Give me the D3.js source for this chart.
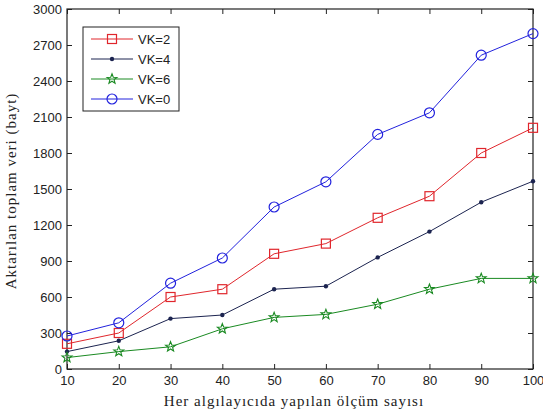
<!DOCTYPE html>
<html>
<head>
<meta charset="utf-8">
<script src="https://cdn.jsdelivr.net/npm/d3@7"></script>
<style>
body { margin: 0; background: #fff; }
.tick text { font-family: Arial, "Liberation Sans", sans-serif; font-size: 13px; fill: #222; }
</style>
</head>
<body>
<script>
var width = 543;
var height = 418;

var padding = {top: 9, right: 10, bottom: 49, left: 67};
var plotW = width - padding.left - padding.right;
var plotH = height - padding.top - padding.bottom;

// data
var xValues = [10, 20, 30, 40, 50, 60, 70, 80, 90, 100];
var vk2 = [210, 300, 600, 665, 960, 1045, 1260, 1440, 1800, 2010];
var vk4 = [145, 235, 420, 450, 665, 690, 930, 1145, 1390, 1565];
var vk6 = [95, 145, 185, 335, 430, 455, 540, 665, 755, 755];
var vk0 = [275, 385, 715, 925, 1350, 1560, 1955, 2135, 2615, 2795];
var seriesNames = ["VK=2", "VK=4", "VK=6", "VK=0"];
var yTicks = [0, 300, 600, 900, 1200, 1500, 1800, 2100, 2400, 2700, 3000];

var series = [
  {name: seriesNames[0], values: vk2, color: "#e0262c", marker: "square"},
  {name: seriesNames[1], values: vk4, color: "#1c2450", marker: "dot"},
  {name: seriesNames[2], values: vk6, color: "#1a8a22", marker: "star"},
  {name: seriesNames[3], values: vk0, color: "#2222dd", marker: "circle"}
];

var xScale = d3.scaleLinear().domain([10, 100]).range([0, plotW]);
var yScale = d3.scaleLinear().domain([0, 3000]).range([plotH, 0]);

var svg = d3.select("body")
  .append("svg")
  .attr("width", width)
  .attr("height", height);

var g = svg.append("g")
  .attr("transform", "translate(" + padding.left + "," + padding.top + ")");

// axes, ticks point inward like matlab
g.append("g")
  .attr("transform", "translate(0," + plotH + ")")
  .call(d3.axisBottom(xScale).tickValues(xValues).tickSize(-5).tickPadding(7).tickFormat(d3.format("d")));
g.append("g")
  .call(d3.axisTop(xScale).tickValues(xValues).tickSize(-5).tickFormat(""));
g.append("g")
  .call(d3.axisLeft(yScale).tickValues(yTicks).tickSize(-5).tickPadding(5).tickFormat(d3.format("d")));
g.append("g")
  .attr("transform", "translate(" + plotW + ",0)")
  .call(d3.axisRight(yScale).tickValues(yTicks).tickSize(-5).tickFormat(""));

g.selectAll(".domain").remove();
g.selectAll(".tick line").attr("stroke", "#222");

g.append("rect")
  .attr("width", plotW)
  .attr("height", plotH)
  .attr("fill", "none")
  .attr("stroke", "#222")
  .attr("stroke-width", 1.2);

var line = d3.line()
  .x(function(d, i) { return xScale(xValues[i]); })
  .y(function(d) { return yScale(d); });

function starPath(r) {
  var pts = [];
  for (var k = 0; k < 10; k++) {
    var rr = k % 2 == 0 ? r : r * 0.42;
    var a = -Math.PI / 2 + k * Math.PI / 5;
    pts.push([rr * Math.cos(a), rr * Math.sin(a)]);
  }
  return "M" + pts.join("L") + "Z";
}

function drawMarker(sel, s) {
  if (s.marker == "square") {
    sel.append("rect").attr("x", -4.5).attr("y", -4.5).attr("width", 9).attr("height", 9)
      .attr("fill", "none").attr("stroke", s.color).attr("stroke-width", 1.2);
  } else if (s.marker == "circle") {
    sel.append("circle").attr("r", 5)
      .attr("fill", "none").attr("stroke", s.color).attr("stroke-width", 1.2);
  } else if (s.marker == "star") {
    sel.append("path").attr("d", starPath(5.2))
      .attr("fill", "none").attr("stroke", s.color).attr("stroke-width", 1.1);
  } else {
    sel.append("circle").attr("r", 2.2).attr("fill", s.color);
  }
}

series.forEach(function(s) {
  g.append("path")
    .attr("d", line(s.values))
    .attr("fill", "none")
    .attr("stroke", s.color)
    .attr("stroke-width", 1);

  g.selectAll(".m-" + s.marker)
    .data(s.values)
    .enter()
    .append("g")
    .attr("class", "m-" + s.marker)
    .attr("transform", function(d, i) {
      return "translate(" + xScale(xValues[i]) + "," + yScale(d) + ")";
    })
    .each(function() { drawMarker(d3.select(this), s); });
});

// legend
var legend = svg.append("g").attr("transform", "translate(83,27)");
legend.append("rect")
  .attr("width", 96)
  .attr("height", 84)
  .attr("fill", "#fff")
  .attr("stroke", "#222")
  .attr("stroke-width", 1);

series.forEach(function(s, i) {
  var row = legend.append("g").attr("transform", "translate(0," + (12 + i * 20) + ")");
  row.append("line").attr("x1", 8).attr("x2", 50).attr("stroke", s.color).attr("stroke-width", 1);
  drawMarker(row.append("g").attr("transform", "translate(29,0)"), s);
  row.append("text")
    .attr("x", 55)
    .attr("dy", "0.36em")
    .attr("font-family", "Arial, 'Liberation Sans', sans-serif")
    .attr("font-size", "13px")
    .attr("fill", "#222")
    .text(s.name);
});

// axis titles
svg.append("text")
  .attr("x", padding.left + plotW / 2 - 6)
  .attr("y", 406)
  .attr("text-anchor", "middle")
  .attr("font-family", "'Liberation Serif', 'Times New Roman', serif")
  .attr("font-size", "15px")
  .attr("letter-spacing", "1px")
  .attr("fill", "#222")
  .text("Her algılayıcıda yapılan ölçüm sayısı");

svg.append("text")
  .attr("transform", "translate(16,191) rotate(-90)")
  .attr("text-anchor", "middle")
  .attr("font-family", "'Liberation Serif', 'Times New Roman', serif")
  .attr("font-size", "15px")
  .attr("letter-spacing", "1px")
  .attr("fill", "#222")
  .text("Aktarılan toplam veri (bayt)");
</script>
</body>
</html>
